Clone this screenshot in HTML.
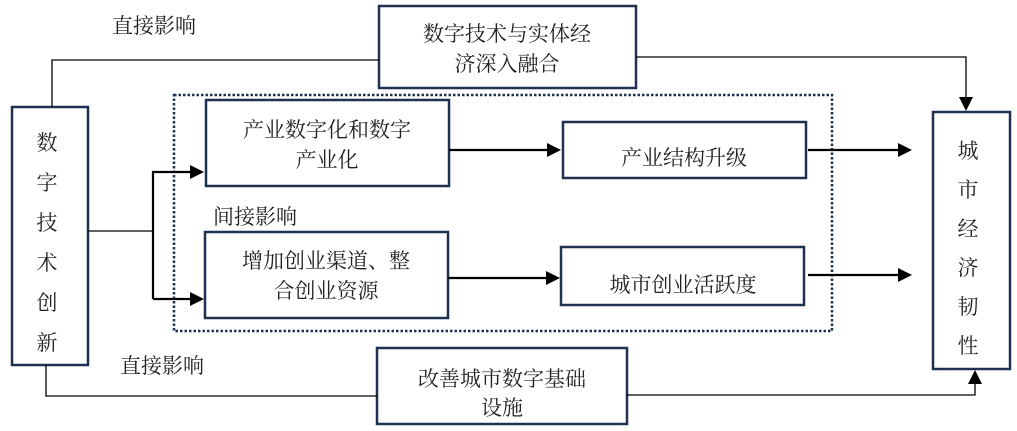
<!DOCTYPE html>
<html><head><meta charset="utf-8"><style>
body{margin:0;background:#fff}
svg text{font-family:"Liberation Serif","Noto Serif CJK SC",serif;font-size:21px;fill:#222}
</style></head><body>
<svg width="1017" height="426" viewBox="0 0 1017 426" xmlns="http://www.w3.org/2000/svg">
<g fill="none" stroke="#1f3150" stroke-width="2.5">
<rect x="12" y="107" width="76" height="258"/>
<rect x="379" y="6" width="257" height="82"/>
<rect x="206" y="100" width="243" height="86"/>
<rect x="205" y="232" width="243" height="86"/>
<rect x="563" y="122" width="243" height="56"/>
<rect x="561" y="247" width="243" height="58"/>
<rect x="933" y="112" width="77" height="257"/>
<rect x="377" y="348" width="250" height="76"/>
</g>
<rect x="174" y="95" width="658" height="236" fill="none" stroke="#1f3150" stroke-width="2.5" stroke-dasharray="2.5,2"/>
<g fill="none" stroke="#000" stroke-width="1.3">
<polyline points="52,107 52,60 379,60"/>
<polyline points="636,57 966,57 966,100"/>
<polyline points="46,365 46,396 377,396"/>
<polyline points="627,395 975,395 975,382"/>
<polyline points="88,231 153,231"/>
</g>
<g fill="none" stroke="#000" stroke-width="2.2">
<polyline points="153,299 153,172 190,172"/>
<line x1="153" y1="299" x2="190" y2="299"/>
<line x1="449" y1="150" x2="547" y2="150"/>
<line x1="448" y1="278" x2="546" y2="278"/>
<line x1="808" y1="150" x2="898" y2="150"/>
<line x1="808" y1="275" x2="898" y2="275"/>
</g>
<g fill="#000">
<path d="M190,165 L204,172 L190,179z"/>
<path d="M190,292 L204,299 L190,306z"/>
<path d="M547,143 L561,150 L547,157z"/>
<path d="M546,271 L560,278 L546,285z"/>
<path d="M898,143 L912,150 L898,157z"/>
<path d="M898,268 L912,275 L898,282z"/>
<path d="M959,97 L973,97 L966,111z"/>
<path d="M968,384 L982,384 L975,370z"/>
</g>
<text x="112" y="33">直接影响</text>
<text x="120" y="373">直接影响</text>
<text x="213" y="224">间接影响</text>
<g text-anchor="middle">
<text x="507" y="41">数字技术与实体经</text>
<text x="507" y="71">济深入融合</text>
<text x="327" y="137">产业数字化和数字</text>
<text x="327" y="167">产业化</text>
<text x="326" y="268">增加创业渠道、整</text>
<text x="326" y="298">合创业资源</text>
<text x="684" y="165">产业结构升级</text>
<text x="683" y="292">城市创业活跃度</text>
<text x="502" y="386">改善城市数字基础</text>
<text x="502" y="415">设施</text>
</g>
<g text-anchor="middle" style="font-size:28px">
<text x="47" y="150">数</text><text x="47" y="190">字</text><text x="47" y="230">技</text>
<text x="47" y="270">术</text><text x="47" y="310">创</text><text x="47" y="350">新</text>
<text x="968" y="158">城</text><text x="968" y="197">市</text><text x="968" y="236">经</text>
<text x="968" y="275">济</text><text x="968" y="314">韧</text><text x="968" y="353">性</text>
</g>
</svg>
</body></html>
